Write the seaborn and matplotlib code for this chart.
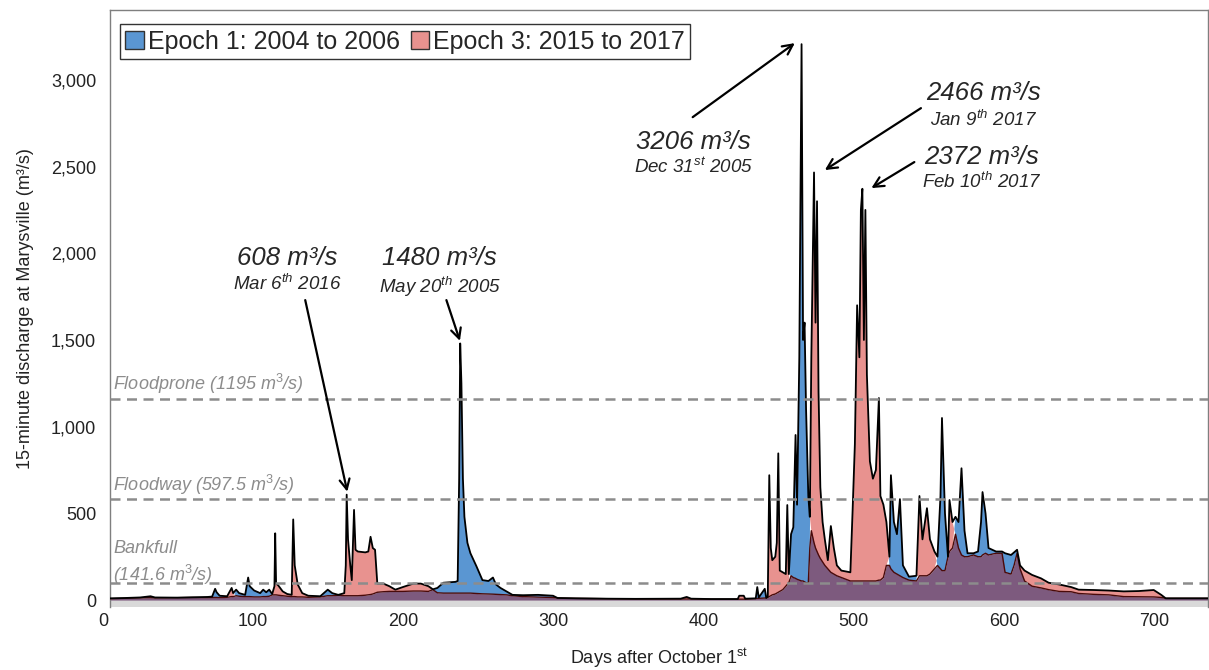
import numpy as np
import pandas as pd
import matplotlib
matplotlib.use("Agg")
import matplotlib.pyplot as plt
import matplotlib.transforms as mtransforms
import seaborn as sns
from matplotlib.patches import Patch
from matplotlib.ticker import FuncFormatter

# ---------------- data ----------------
days = [0, 10, 20, 27, 30, 45, 55, 65, 68, 70, 71, 73, 78, 81, 82, 84, 86, 90, 92, 93,
        96, 100, 102, 104, 106, 108, 109.5, 110, 110.6, 112, 115, 118, 121, 122, 123, 125, 128, 132, 140, 145,
        148, 152, 156, 157, 157.6, 158.5, 160, 161, 162.5, 163.5, 165, 170, 172, 173.5, 175, 176.5, 178, 182, 186, 190,
        195, 202, 207, 212, 215, 218, 222, 230, 231.5, 232.5, 233.2, 234, 235, 236, 238, 240, 244, 248, 252, 255,
        257, 260, 264, 268, 275, 285, 295, 298, 310, 330, 350, 380, 384, 387, 400, 418, 419, 422, 423, 430,
        431, 432, 436, 437, 438, 439, 440, 441, 443, 444, 445, 446, 448, 450, 451, 452, 453.5, 455, 456.5, 457.5,
        459, 460.5, 461.5, 462.5, 463.5, 465, 466, 467, 468.8, 469.8, 470.8, 471.8, 473, 474.5, 476, 478, 480, 482, 484, 487,
        490, 493, 494.5, 496, 497.5, 499, 500, 501, 502, 503, 504, 506, 508, 510, 512, 513, 515, 517, 519, 520,
        522, 524, 526, 528, 532, 537, 539, 541, 544, 546, 549, 551, 553, 554, 556, 558, 559, 561, 563, 565,
        567, 569, 571, 575, 578, 580, 581, 583, 585, 590, 594, 596, 600, 602, 604, 606, 609, 614, 620, 625,
        632, 640, 645, 655, 665, 675, 685, 695, 700, 703, 731]

epoch1 = [10, 12, 15, 22, 15, 14, 16, 18, 20, 65, 45, 25, 22, 20, 20, 60, 40, 30, 130, 80,
          55, 40, 60, 45, 60, 35, 30, 30, 30, 28, 25, 22, 20, 20, 20, 18, 18, 16, 18, 60,
          40, 30, 25, 25, 25, 25, 25, 25, 25, 25, 25, 28, 30, 32, 35, 40, 45, 48, 50, 50,
          50, 52, 52, 50, 62, 70, 100, 105, 110, 700, 1480, 1250, 700, 480, 330, 270, 195, 115, 110, 130,
          90, 70, 50, 30, 28, 30, 25, 12, 10, 8, 6, 6, 6, 6, 5, 5, 5, 5, 5, 8,
          75, 15, 65, 12, 15, 20, 25, 30, 35, 40, 45, 50, 60, 80, 90, 100, 380, 420, 952, 550,
          1400, 3206, 1500, 1600, 1100, 600, 480, 400, 330, 300, 280, 260, 240, 220, 200, 180, 160, 150, 140, 130,
          120, 110, 110, 110, 110, 110, 110, 110, 110, 110, 110, 110, 110, 110, 115, 115, 130, 200, 250, 720,
          450, 380, 582, 200, 135, 140, 140, 140, 140, 150, 180, 250, 600, 1050, 500, 250, 280, 300, 480, 450,
          760, 400, 270, 270, 280, 450, 623, 500, 300, 280, 280, 270, 260, 275, 290, 180, 110, 80, 70, 60,
          50, 48, 38, 33, 30, 20, 19, 18, 15, 10, 10]

epoch3 = [8, 10, 12, 14, 12, 14, 15, 14, 15, 15, 15, 14, 16, 70, 40, 25, 22, 20, 20, 20,
          18, 18, 20, 20, 22, 30, 80, 385, 95, 85, 50, 35, 30, 465, 200, 90, 40, 25, 22, 25,
          25, 28, 40, 200, 608, 350, 200, 115, 520, 290, 280, 275, 280, 365, 300, 290, 95, 95, 80, 60,
          75, 95, 95, 80, 60, 42, 40, 40, 40, 40, 40, 40, 40, 40, 40, 40, 38, 36, 35, 34,
          33, 32, 30, 25, 20, 17, 15, 12, 10, 8, 7, 8, 18, 8, 6, 6, 25, 25, 8, 10,
          10, 10, 12, 12, 20, 720, 300, 230, 250, 330, 846, 170, 160, 150, 548, 150, 140, 130, 125, 120,
          115, 110, 110, 105, 100, 100, 300, 1400, 2466, 1600, 2300, 1200, 650, 450, 350, 230, 427, 300, 200, 170,
          165, 160, 520, 900, 1700, 1400, 2250, 2372, 1500, 2250, 1300, 800, 700, 750, 1165, 600, 550, 450, 200, 180,
          160, 150, 140, 130, 115, 110, 600, 350, 530, 350, 280, 200, 180, 170, 170, 250, 577, 450, 380, 300,
          260, 250, 250, 260, 250, 250, 260, 270, 260, 270, 270, 160, 150, 200, 270, 200, 170, 145, 125, 100,
          90, 75, 60, 58, 55, 50, 52, 58, 30, 10, 10]

series_labels = ["Epoch 1: 2004 to 2006", "Epoch 3: 2015 to 2017"]
threshold_levels = [100, 580, 1160]
threshold_texts = ["Bankfull\n(141.6 m$^{3}$/s)", "Floodway (597.5 m$^{3}$/s)", "Floodprone (1195 m$^{3}$/s)"]

peak_values = ["608 m³/s", "1480 m³/s", "3206 m³/s", "2466 m³/s", "2372 m³/s"]
peak_dates = ["Mar 6$^{th}$ 2016", "May 20$^{th}$ 2005", "Dec 31$^{st}$ 2005",
              "Jan 9$^{th}$ 2017", "Feb 10$^{th}$ 2017"]
label_xy = [(118, 1972), (219.5, 1972), (388.5, 2641), (581.5, 2924), (580.5, 2555)]
date_xy = [(118, 1822), (219.5, 1805), (388.5, 2497), (581.5, 2768), (580.5, 2410)]
arrow_from = [(130, 1730), (224, 1730), (388, 2785), (540, 2837), (535.6, 2526)]
arrow_to = [(158, 625), (233, 1495), (456, 3212), (476, 2480), (507, 2376)]

df = pd.DataFrame({"day": days, "e1": epoch1, "e3": epoch3})
df["top"] = df[["e1", "e3"]].max(axis=1)
df["low"] = df[["e1", "e3"]].min(axis=1)

# ---------------- style ----------------
sns.set_theme(style="white")
plt.rcParams["font.family"] = ["Liberation Sans", "DejaVu Sans"]
plt.rcParams["mathtext.fontset"] = "custom"
plt.rcParams["mathtext.rm"] = "Liberation Sans"
plt.rcParams["mathtext.it"] = "Liberation Sans:italic"

BLUE = "#5a96d2"
PINK = "#e8928f"
PURPLE = "#7d5a7e"

fig = plt.figure(figsize=(12.09, 6.70), dpi=100)
ax = fig.add_axes([110 / 1209, 1 - 607 / 670, 1 - 110 / 1209 - 0.001, (607 - 10) / 670])

ax.axhspan(-40, 0, color="#d9d9d9", lw=0, zorder=0)

x = df["day"].values
ax.fill_between(x, df["e3"], df["e1"], where=df["e1"] >= df["e3"], color=BLUE, lw=0, zorder=2.2,
                interpolate=True)
ax.fill_between(x, df["e1"], df["e3"], where=df["e3"] > df["e1"], color=PINK, lw=0, zorder=2.2,
                interpolate=True)
ax.fill_between(x, 0, df["low"], color=PURPLE, lw=0, zorder=2.3)

sns.lineplot(data=df, x="day", y="low", ax=ax, color="#4a0a0a", lw=1.0, zorder=3, estimator=None, sort=False)
sns.lineplot(data=df, x="day", y="top", ax=ax, color="black", lw=1.3, zorder=4, estimator=None, sort=False)

for lvl in threshold_levels:
    ax.axhline(lvl, color="#8c8c8c", lw=1.8, ls=(0, (4, 2.6)), zorder=5)

grey_txt = "#8c8c8c"
ax.text(2, 76, threshold_texts[0], color=grey_txt, style="italic", fontsize=13,
        ha="left", va="bottom", linespacing=1.3, zorder=6)
ax.text(2, 592, threshold_texts[1], color=grey_txt, style="italic", fontsize=13,
        ha="left", va="bottom", zorder=6)
ax.text(2, 1178, threshold_texts[2], color=grey_txt, style="italic", fontsize=13,
        ha="left", va="bottom", zorder=6)

for v, d, lxy, dxy, a0, a1 in zip(peak_values, peak_dates, label_xy, date_xy, arrow_from, arrow_to):
    ax.text(*lxy, v, fontsize=18.5, style="italic", ha="center", va="center", zorder=7)
    ax.text(*dxy, d, fontsize=13.5, style="italic", ha="center", va="center", zorder=7)
    ax.annotate("", xy=a1, xytext=a0, zorder=7,
                arrowprops=dict(arrowstyle="->", color="black", lw=1.6,
                                mutation_scale=18, shrinkA=0, shrinkB=0))

ax.set_xlim(0, 731)
ax.set_ylim(-40, 3403)
ax.set_xticks(range(0, 701, 100))
ax.set_yticks(range(0, 3001, 500))
ax.yaxis.set_major_formatter(FuncFormatter(lambda v, p: f"{int(v):,}"))
ax.tick_params(axis="both", length=0, labelsize=13, colors="#222222")
ax.tick_params(axis="x", pad=4)
ax.tick_params(axis="y", pad=10)

shift = mtransforms.ScaledTranslation(-7 / 100, 0, fig.dpi_scale_trans)
for lab in ax.get_xticklabels():
    lab.set_transform(lab.get_transform() + shift)

for side in ["left", "top", "right"]:
    ax.spines[side].set_color("#7f7f7f")
    ax.spines[side].set_linewidth(1.0)
ax.spines["bottom"].set_visible(False)

ax.set_xlabel("Days after October 1$^{\\mathrm{st}}$", fontsize=13, labelpad=12, color="#222222")
ax.set_ylabel("15-minute discharge at Marysville (m³/s)", fontsize=13, labelpad=12, color="#222222")

handles = [Patch(facecolor=BLUE, edgecolor="#333333", lw=1.0),
           Patch(facecolor=PINK, edgecolor="#333333", lw=1.0)]
leg = ax.legend(handles, series_labels, loc="upper left", bbox_to_anchor=(0.009, 0.976), ncol=2,
                fontsize=18, frameon=True, fancybox=False, framealpha=1, edgecolor="#333333",
                handlelength=0.74, handleheight=0.74, handletextpad=0.15, columnspacing=0.45,
                borderpad=0.22, borderaxespad=0)
leg.get_frame().set_linewidth(1.0)
leg.set_zorder(8)

fig.savefig("out.png", dpi=100)
